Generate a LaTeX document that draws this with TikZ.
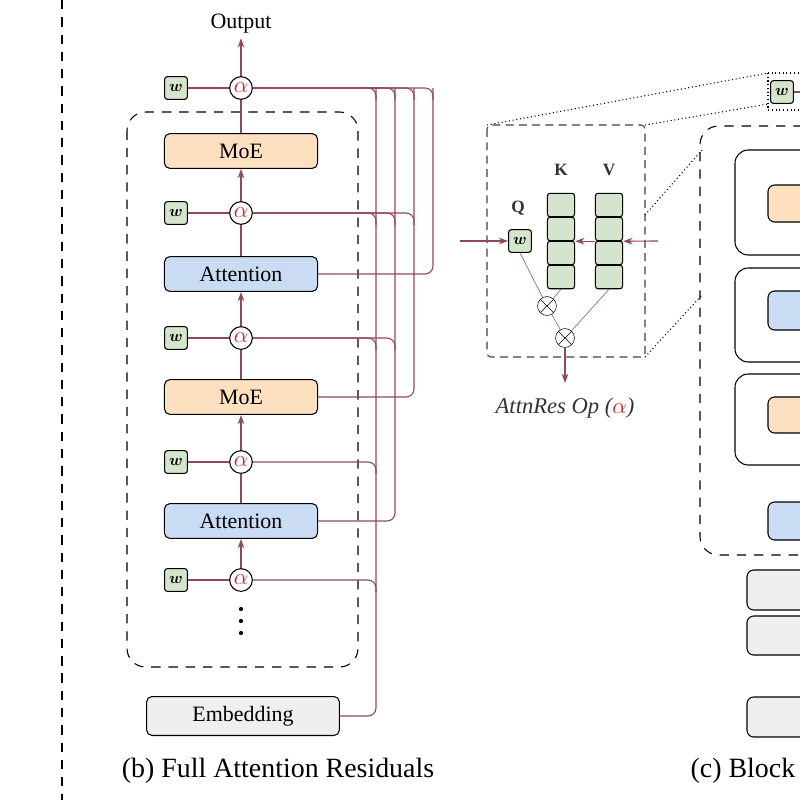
\documentclass[tikz,border=0pt]{standalone}
\usepackage{amsmath,bm}
\usepackage{fontspec}
\setmainfont{Liberation Serif}
\usetikzlibrary{arrows.meta,shapes.misc}
\definecolor{wine}{HTML}{8E4B55}
\definecolor{moe}{HTML}{FCE0C0}
\definecolor{att}{HTML}{C9DCF3}
\definecolor{wgr}{HTML}{D5E5CB}
\definecolor{emb}{HTML}{EFEFEF}
\definecolor{ared}{HTML}{C0282A}
\begin{document}
\begin{tikzpicture}[x=0.0264583cm,y=-0.0264583cm,
  blk/.style={draw,thick,rounded corners=4pt,font=\fontsize{16.5}{18}\selectfont},
  moeb/.style={blk,fill=moe,minimum width=4.05cm,minimum height=0.92cm},
  attb/.style={blk,fill=att,minimum width=4.05cm,minimum height=0.92cm},
  al/.style={circle,draw,thick,fill=white,minimum size=0.6cm,inner sep=0pt,text=ared,font=\fontsize{16}{18}\selectfont},
  wb/.style={draw,thick,rounded corners=2pt,fill=wgr,minimum size=0.6cm,inner sep=0pt,font=\fontsize{13}{14}\selectfont},
  wl/.style={draw=wine,line width=0.85pt},
  ar/.style={draw=wine,line width=0.85pt,-{Stealth[length=7pt,width=5pt]}},
  cell/.style={draw,thick,rounded corners=2pt,fill=wgr,minimum width=0.72cm,minimum height=0.62cm,inner sep=0pt},
  lab/.style={font=\fontsize{13}{14}\selectfont\bfseries,text=black!80},
  ot/.style={circle,draw,minimum size=0.5cm,inner sep=0pt,path picture={\draw (path picture bounding box.north west)--(path picture bounding box.south east) (path picture bounding box.north east)--(path picture bounding box.south west);}},
  rc/.style={rounded corners=6pt}]
\useasboundingbox (0,0) rectangle (800,800);
\clip (0,0) rectangle (800,800);
\draw[thick,dash pattern=on 7pt off 6pt] (62,0)--(62,800);
\draw[thick,dash pattern=on 7pt off 6pt,rounded corners=14pt] (127,112) rectangle (358,667);
\node[moeb] (m2) at (241,151) {MoE};
\node[attb] (a2) at (241,274) {Attention};
\node[moeb] (m1) at (241,397) {MoE};
\node[attb] (a1) at (241,521) {Attention};
\node[blk,fill=emb,minimum width=5.1cm,minimum height=1.03cm] (emb) at (243,716) {Embedding};
\foreach \i/\y in {5/88,4/213,3/338,2/462,1/580}{
  \node[al] (al\i) at (241,\y) {$\alpha$};
  \node[wb] (w\i) at (176,\y) {$\bm{w}$};
  \draw[wl] (w\i)--(al\i);
}
\node[font=\fontsize{16.5}{18}\selectfont] (out) at (241,24) {Output};
\draw[ar] (al5)--(out);
\draw[ar] (al4)--(m2); \draw[wl] (m2)--(al5);
\draw[ar] (al3)--(a2); \draw[wl] (a2)--(al4);
\draw[ar] (al2)--(m1); \draw[wl] (m1)--(al3);
\draw[ar] (al1)--(a1); \draw[wl] (a1)--(al2);
\foreach \y in {609,621,633}{\fill (241,\y) circle (1.6pt);}
\draw[wl,rc] (emb.east)-|(376,88);
\draw[wl,rc] (a1.east)-|(395,88);
\draw[wl,rc] (m1.east)-|(414,88);
\draw[wl,rc] (a2.east)-|(433,88);
\foreach \x in {376,395,414,433}{\draw[wl,rc] (al5.east)-|(\x,100);}
\foreach \x in {376,395,414}{\draw[wl,rc] (al4.east)-|(\x,225);}
\foreach \x in {376,395}{\draw[wl,rc] (al3.east)-|(\x,350);}
\draw[wl,rc] (al2.east)-|(376,474);
\draw[wl,rc] (al1.east)-|(376,592);
\node[font=\fontsize{21}{24}\selectfont] (capb) at (278,771) {(b) Full Attention Residuals};
% AttnRes op
\draw[thick,dash pattern=on 6pt off 4pt,draw=black!75,rounded corners=3pt] (487,125) rectangle (645,357);
\node[wb] (wq) at (520,241) {$\bm{w}$};
\node[lab] (ql) at (518,208) {Q};
\foreach \j/\y in {1/205,2/229,3/253,4/277}{
  \node[cell] (k\j) at (561,\y) {};
  \node[cell] (v\j) at (609,\y) {};
}
\node[lab] (kl) at (561,170) {K};
\node[lab] (vl) at (609,170) {V};
\coordinate (qin) at (460,241); \coordinate (vin) at (658,241);
\draw[ar] (qin)--(wq);
\draw[ar] (vin)--(v2.south east);
\draw[ar] (v2.south west)--(k2.south east);
\node[ot] (o1) at (547,306) {};
\node[ot] (o2) at (565,338) {};
\draw[wine] (wq.south)--(o1) (k4.south)--(o1) (o1)--(o2) (v4.south)--(o2);
\coordinate (opout) at (565,383);
\draw[ar] (o2)--(opout);
\node[font=\fontsize{17}{20}\selectfont\itshape,text=black!80] (opl) at (565,408) {AttnRes Op (\textcolor{ared}{$\alpha$})};
% right partial (c)
\draw[thick,dash pattern=on 7pt off 6pt,rounded corners=14pt] (820,126)--(700,126)--(700,555)--(820,555);
\draw[thick,rounded corners=10pt] (820,150)--(735,150)--(735,255)--(820,255);
\draw[thick,rounded corners=10pt] (820,268)--(735,268)--(735,362)--(820,362);
\draw[thick,rounded corners=10pt] (820,374)--(735,374)--(735,465)--(820,465);
\draw[thick,rounded corners=5pt,fill=moe] (830,185) rectangle (768,222);
\draw[thick,rounded corners=5pt,fill=att] (830,291) rectangle (768,330);
\draw[thick,rounded corners=5pt,fill=moe] (830,397) rectangle (768,433);
\draw[thick,rounded corners=5pt,fill=att] (830,502) rectangle (768,540);
\draw[thick,rounded corners=5pt,fill=emb] (830,570) rectangle (747,610);
\draw[thick,rounded corners=5pt,fill=emb] (830,616) rectangle (747,655);
\draw[thick,rounded corners=5pt,fill=emb] (830,697) rectangle (747,737);
\node[wb] (wr) at (782,92) {$\bm{w}$};
\coordinate (wre) at (810,92);
\draw[wl] (wr.east)--(wre);
\draw[dotted,thick] (768,73) rectangle (830,110);
\draw[dotted,thick] (487,125)--(768,73) (645,125)--(768,104);
\draw[dotted,thick] (645,215)--(702,150) (645,357)--(702,295);
\node[font=\fontsize{21}{24}\selectfont,anchor=west] (capc) at (686,771) {(c) Block Attention};
\end{tikzpicture}
\end{document}
